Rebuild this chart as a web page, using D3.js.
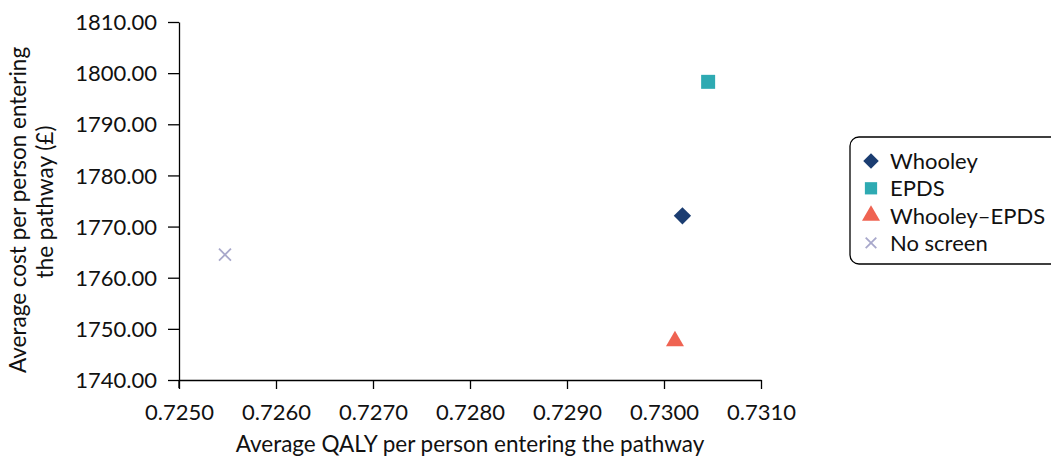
<!DOCTYPE html>
<html><head><meta charset="utf-8">
<script src="https://cdn.jsdelivr.net/npm/d3@7"></script>
<style>body{margin:0;background:#fff;} svg{display:block;font-family:Lato,"Open Sans",sans-serif;}</style>
</head><body><svg id="c" width="1051" height="458"></svg>
<script>
const series = ["Whooley","EPDS","Whooley\u2013EPDS","No screen"];
const qaly = [0.73019, 0.730455, 0.730113, 0.725474];
const cost = [1772.1, 1798.3, 1747.6, 1764.5];
const colors = ["#1b3d71","#2eaab2","#ef6352","#a8a8cb"];
const shapes = ["diamond","square","triangle","cross"];
const xTicks = [0.725,0.726,0.727,0.728,0.729,0.730,0.731];
const yTicks = [1740,1750,1760,1770,1780,1790,1800,1810];

const svg = d3.select("#c");
const x = d3.scaleLinear().domain([0.725,0.731]).range([179,761]);
const y = d3.scaleLinear().domain([1740,1810]).range([380,22]);
const FS = 22;

const xa = svg.append("g").attr("transform","translate(0,380)")
  .call(d3.axisBottom(x).tickValues(xTicks).tickFormat(d3.format(".4f")).tickSize(9).tickSizeOuter(0));
const ya = svg.append("g").attr("transform","translate(179,0)")
  .call(d3.axisLeft(y).tickValues(yTicks).tickFormat(d3.format(".2f")).tickSize(11).tickSizeOuter(0));
[xa,ya].forEach(a=>{a.selectAll("path,line").attr("stroke","#000").attr("stroke-width",1.3);
  a.selectAll("text").attr("font-size",FS).attr("fill","#111").attr("font-family","Lato,sans-serif");});
xa.selectAll("text").attr("y",0).attr("dy","0").attr("transform","translate(0,40)");
ya.selectAll("text").attr("dy","0.35em").attr("x",-22);
svg.append("line").attr("x1",179).attr("x2",179).attr("y1",380).attr("y2",388).attr("stroke","#000").attr("stroke-width",1.3);

function drawSym(g, i, sz){
  const s = shapes[i];
  let p;
  if(s==="diamond"){
    p = g.append("path").attr("d", d3.symbol(d3.symbolSquare, sz.diamond)()).attr("transform","rotate(45)").attr("fill",colors[i]);
  } else if(s==="cross"){
    p = g.append("path").attr("d", d3.symbol(d3.symbolX, sz.cross)()).attr("fill","none").attr("stroke",colors[i]).attr("stroke-width",1.8);
  } else {
    p = g.append("path").attr("d", d3.symbol(s==="square"?d3.symbolSquare:d3.symbolTriangle, sz[s])()).attr("fill",colors[i]);
  }
  return p;
}
const plotSizes = {diamond:150,square:196,triangle:140,cross:95};
series.forEach((n,i)=>{
  const g = svg.append("g").attr("transform",`translate(${x(qaly[i])},${y(cost[i])})`);
  drawSym(g,i,plotSizes);
});

svg.append("text").attr("x",470).attr("y",452).attr("text-anchor","middle")
  .attr("font-size",FS+0.5).attr("fill","#111").text("Average QALY per person entering the pathway");
const yt = svg.append("text").attr("transform","rotate(-90)").attr("text-anchor","middle")
  .attr("font-size",FS+0.5).attr("fill","#111");
yt.append("tspan").attr("x",-210).attr("y",26).text("Average cost per person entering");
yt.append("tspan").attr("x",-202).attr("y",53).text("the pathway (\u00a3)");

// legend
const lg = svg.append("g");
lg.append("rect").attr("x",850).attr("y",137).attr("width",215).attr("height",127).attr("rx",9)
  .attr("fill","#fff").attr("stroke","#000").attr("stroke-width",1.3);
const legSizes = {diamond:120,square:150,triangle:140,cross:75};
series.forEach((n,i)=>{
  const cy = 161 + i*27.3;
  const g = lg.append("g").attr("transform",`translate(871,${cy})`);
  drawSym(g,i,legSizes);
  lg.append("text").attr("x",890).attr("y",cy).attr("dy","0.36em").attr("font-size",FS).attr("fill","#111").text(n);
});
</script></body></html>
